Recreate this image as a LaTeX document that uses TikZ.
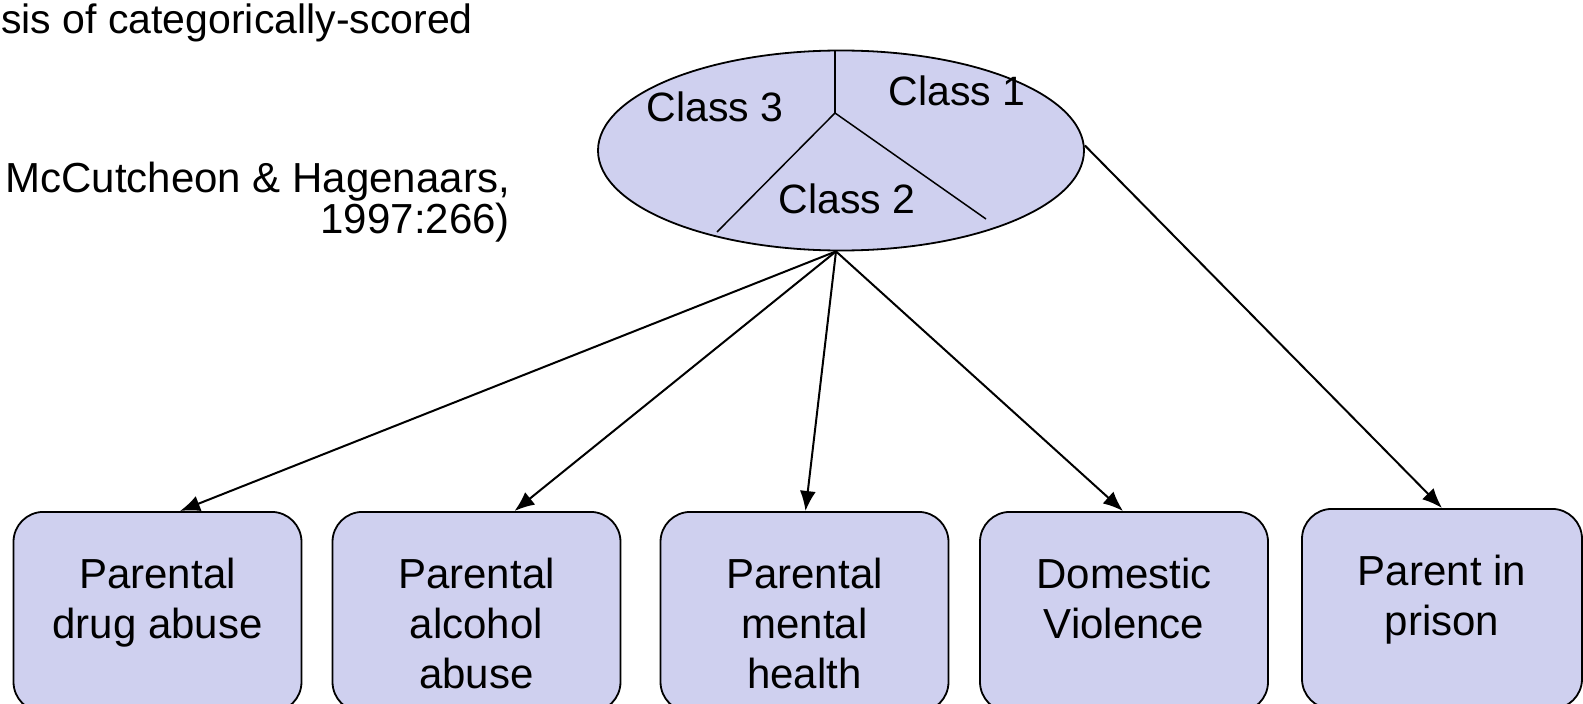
\documentclass[tikz,border=0pt]{standalone}
\usepackage{fontspec}
\setmainfont{Liberation Sans}
\usetikzlibrary{shapes.geometric,arrows.meta,calc}
\definecolor{fillc}{RGB}{207,208,239}
\begin{document}
\begin{tikzpicture}[x=1pt,y=-1pt,
  box/.style={draw, line width=1.8pt, fill=fillc, rounded corners=30pt, minimum width=288pt, minimum height=200pt, anchor=north, inner sep=0pt},
  btext/.style={anchor=north, align=center, inner sep=0pt, font=\fontsize{42}{50}\selectfont},
  ctext/.style={anchor=base, inner sep=0pt, font=\fontsize{41}{49}\selectfont},
  ttext/.style={anchor=base east, inner sep=0pt},
  arr/.style={line width=2pt, -{Latex[length=20pt,width=16pt]}},
  divider/.style={line width=1.5pt}
]
\useasboundingbox (0,0) rectangle (1583,704);
\clip (0,0) rectangle (1583,704);

% header text
\node[ttext, font=\fontsize{41}{49}\selectfont] (title) at (473,34) {sis of categorically-scored};
\node[ttext, font=\fontsize{42}{50}\selectfont] (cit1) at (510,192) {McCutcheon \& Hagenaars,};
\node[ttext, font=\fontsize{42}{50}\selectfont] (cit2) at (510,233) {1997:266)};

% latent class ellipse
\node[draw, ellipse, fill=fillc, line width=1.8pt, minimum width=486pt, minimum height=200pt, inner sep=0pt] (E) at (841,150.5) {};
\coordinate (m) at (835,113);
\coordinate (dtop) at (835,51);
\coordinate (dleft) at (717,232);
\coordinate (dright) at (986,219);
\draw[divider] (m) -- (dtop);
\draw[divider] (m) -- (dleft);
\draw[divider] (m) -- (dright);
\node[ctext] (c3) at (715,121) {Class 3};
\node[ctext] (c1) at (957,105) {Class 1};
\node[ctext] (c2) at (847,213) {Class 2};

% indicator boxes
\node[box] (b1) at (157.5,511) {};
\node[box] (b2) at (476.5,511) {};
\node[box] (b3) at (804.5,511) {};
\node[box] (b4) at (1124,511) {};
\node[box, minimum width=280pt] (b5) at (1442,508) {};

\node[btext] (t1) at (157.5,557.5) {Parental\\drug abuse};
\node[btext] (t2) at (476.5,557.5) {Parental\\alcohol\\abuse};
\node[btext] (t3) at (804.5,557.5) {Parental\\mental\\health};
\node[btext] (t4) at (1124,557.5) {Domestic\\Violence};
\node[btext] (t5) at (1442,554.5) {Parent in\\prison};

% connectors
\coordinate (src) at ($(E.south)+(-5,0)$);
\draw[arr] (src) -- ([xshift=22.5pt]b1.north);
\draw[arr] (src) -- ([xshift=38pt]b2.north);
\draw[arr] (src) -- ([xshift=1pt]b3.north);
\draw[arr] (src) -- ([xshift=-1pt]b4.north);
\draw[arr] ([yshift=5pt]E.east) -- (b5.north);
\end{tikzpicture}
\end{document}
